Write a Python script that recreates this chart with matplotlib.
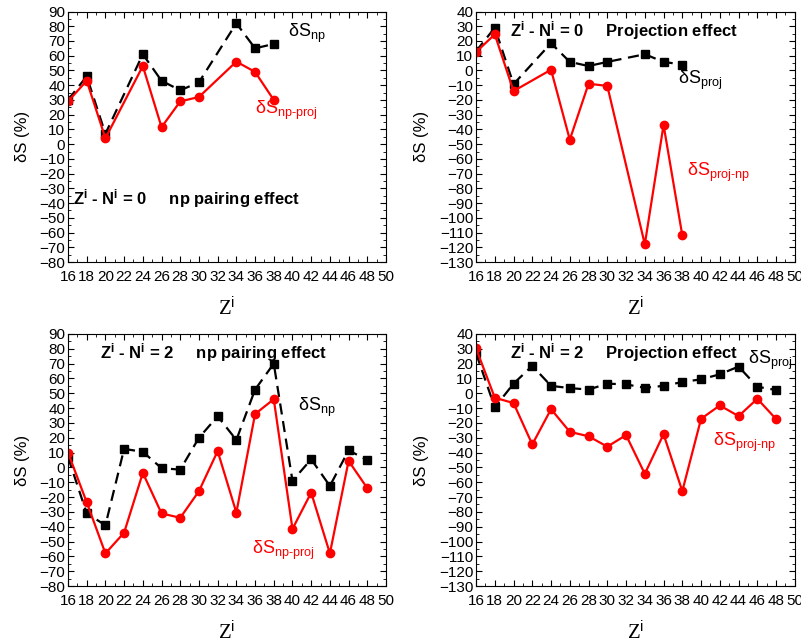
import numpy as np
import matplotlib
matplotlib.use("Agg")
import matplotlib.pyplot as plt
from matplotlib.ticker import MultipleLocator

plt.rcParams['font.family'] = ['Liberation Sans', 'DejaVu Sans']
plt.rcParams['mathtext.fontset'] = 'custom'
plt.rcParams['mathtext.rm'] = 'Liberation Sans'
plt.rcParams['mathtext.it'] = 'Liberation Sans:italic'
plt.rcParams['mathtext.bf'] = 'Liberation Sans:bold'

# Z^i - N^i = 0
z0 = [16, 18, 20, 24, 26, 28, 30, 34, 36, 38]
np0_black = [30, 46, 7, 61, 43, 36.5, 42, 82, 65, 68]
np0_red = [29, 43, 4, 53, 11.5, 29, 32, 56, 49, 30]
proj0_black = [13, 29, -9.3, 18.5, 5.8, 3, 5.8, 11, 5.8, 4]
proj0_red = [12.5, 24.5, -14, 0.5, -47, -9, -10.5, -118, -37, -112]

# Z^i - N^i = 2
z2 = [16, 18, 20, 22, 24, 26, 28, 30, 32, 34, 36, 38, 40, 42, 44, 46, 48]
np2_black = [7, -31, -39, 12.5, 10.5, -0.5, -1.5, 20, 34.5, 18.5, 52.5, 70,
             -9, 5.5, -12.5, 11.5, 5]
np2_red = [10, -23.5, -58, -44, -3.7, -31, -34, -16, 11, -30.5, 36, 46,
           -41.5, -17, -58, 4.4, -14]
proj2_black = [27, -9.5, 6.5, 18.5, 5, 3.5, 2.5, 6.5, 6, 3.7, 5, 7.6,
               9.4, 12.8, 18, 4.4, 2.2]
proj2_red = [30.3, -3, -6.6, -34.5, -10.7, -26, -29, -36, -28.2, -54.3,
             -27.6, -66, -17.2, -8.2, -15.4, -3.7, -17.4]

fig = plt.figure(figsize=(8.01, 6.43), dpi=100)

axes = [
    fig.add_axes([0.0849, 0.5925, 0.397, 0.3896]),
    fig.add_axes([0.5943, 0.5925, 0.398, 0.3896]),
    fig.add_axes([0.0849, 0.0886, 0.397, 0.392]),
    fig.add_axes([0.5943, 0.0886, 0.398, 0.392]),
]

t0 = r'$\mathbf{Z^{i}}$ - $\mathbf{N^{i}}$ = 0'
t2 = r'$\mathbf{Z^{i}}$ - $\mathbf{N^{i}}$ = 2'
panels = [
    (z0, np0_black, np0_red, (-80, 90), t0 + '     np pairing effect',
     (16.5, -37), 'δS$_{\\mathrm{np}}$', (39.5, 75),
     'δS$_{\\mathrm{np\\text{-}proj}}$', (36.0, 23)),
    (z0, proj0_black, proj0_red, (-130, 40), t0 + '     Projection effect',
     (19.6, 27.3), 'δS$_{\\mathrm{proj}}$', (37.5, -6.6),
     'δS$_{\\mathrm{proj\\text{-}np}}$', (38.5, -69)),
    (z2, np2_black, np2_red, (-80, 90), t2 + '     np pairing effect',
     (19.4, 77.8), 'δS$_{\\mathrm{np}}$', (40.6, 40.7),
     'δS$_{\\mathrm{np\\text{-}proj}}$', (35.7, -56)),
    (z2, proj2_black, proj2_red, (-130, 40), t2 + '     Projection effect',
     (19.6, 27.8), 'δS$_{\\mathrm{proj}}$', (45.0, 22.4),
     'δS$_{\\mathrm{proj\\text{-}np}}$', (41.3, -33)),
]

for ax, (zz, yb, yr, ylim, title, tpos, lb, lbpos, lr, lrpos) in zip(axes, panels):
    ax.plot(zz, yb, color='black', linestyle=(0, (5, 3)), lw=1.6,
            marker='s', markersize=5.5)
    ax.plot(zz, yr, color='red', linestyle='-', lw=1.6,
            marker='o', markersize=6)
    ax.set_xlim(16, 50)
    ax.set_ylim(*ylim)
    ax.xaxis.set_major_locator(MultipleLocator(2))
    ax.xaxis.set_minor_locator(MultipleLocator(1))
    ax.yaxis.set_major_locator(MultipleLocator(10))
    ax.yaxis.set_minor_locator(MultipleLocator(5))
    ax.tick_params(which='both', direction='in', top=True, right=True,
                   labelsize=11, pad=2)
    ax.tick_params(axis='x', pad=6)
    ax.tick_params(which='major', length=4)
    ax.tick_params(which='minor', length=2)
    ax.set_ylabel('δS (%)', fontsize=12, labelpad=7)
    ax.set_xlabel(r'Z$^{\mathrm{i}}$', fontsize=15, family='Liberation Serif',
                  labelpad=9)
    ax.text(tpos[0], tpos[1], title, fontsize=12, fontweight='bold',
            va='center', ha='left')
    ax.text(lbpos[0], lbpos[1], lb, fontsize=13, color='black',
            va='center', ha='left')
    ax.text(lrpos[0], lrpos[1], lr, fontsize=13, color='red',
            va='center', ha='left')

fig.savefig('out.png', dpi=100)
